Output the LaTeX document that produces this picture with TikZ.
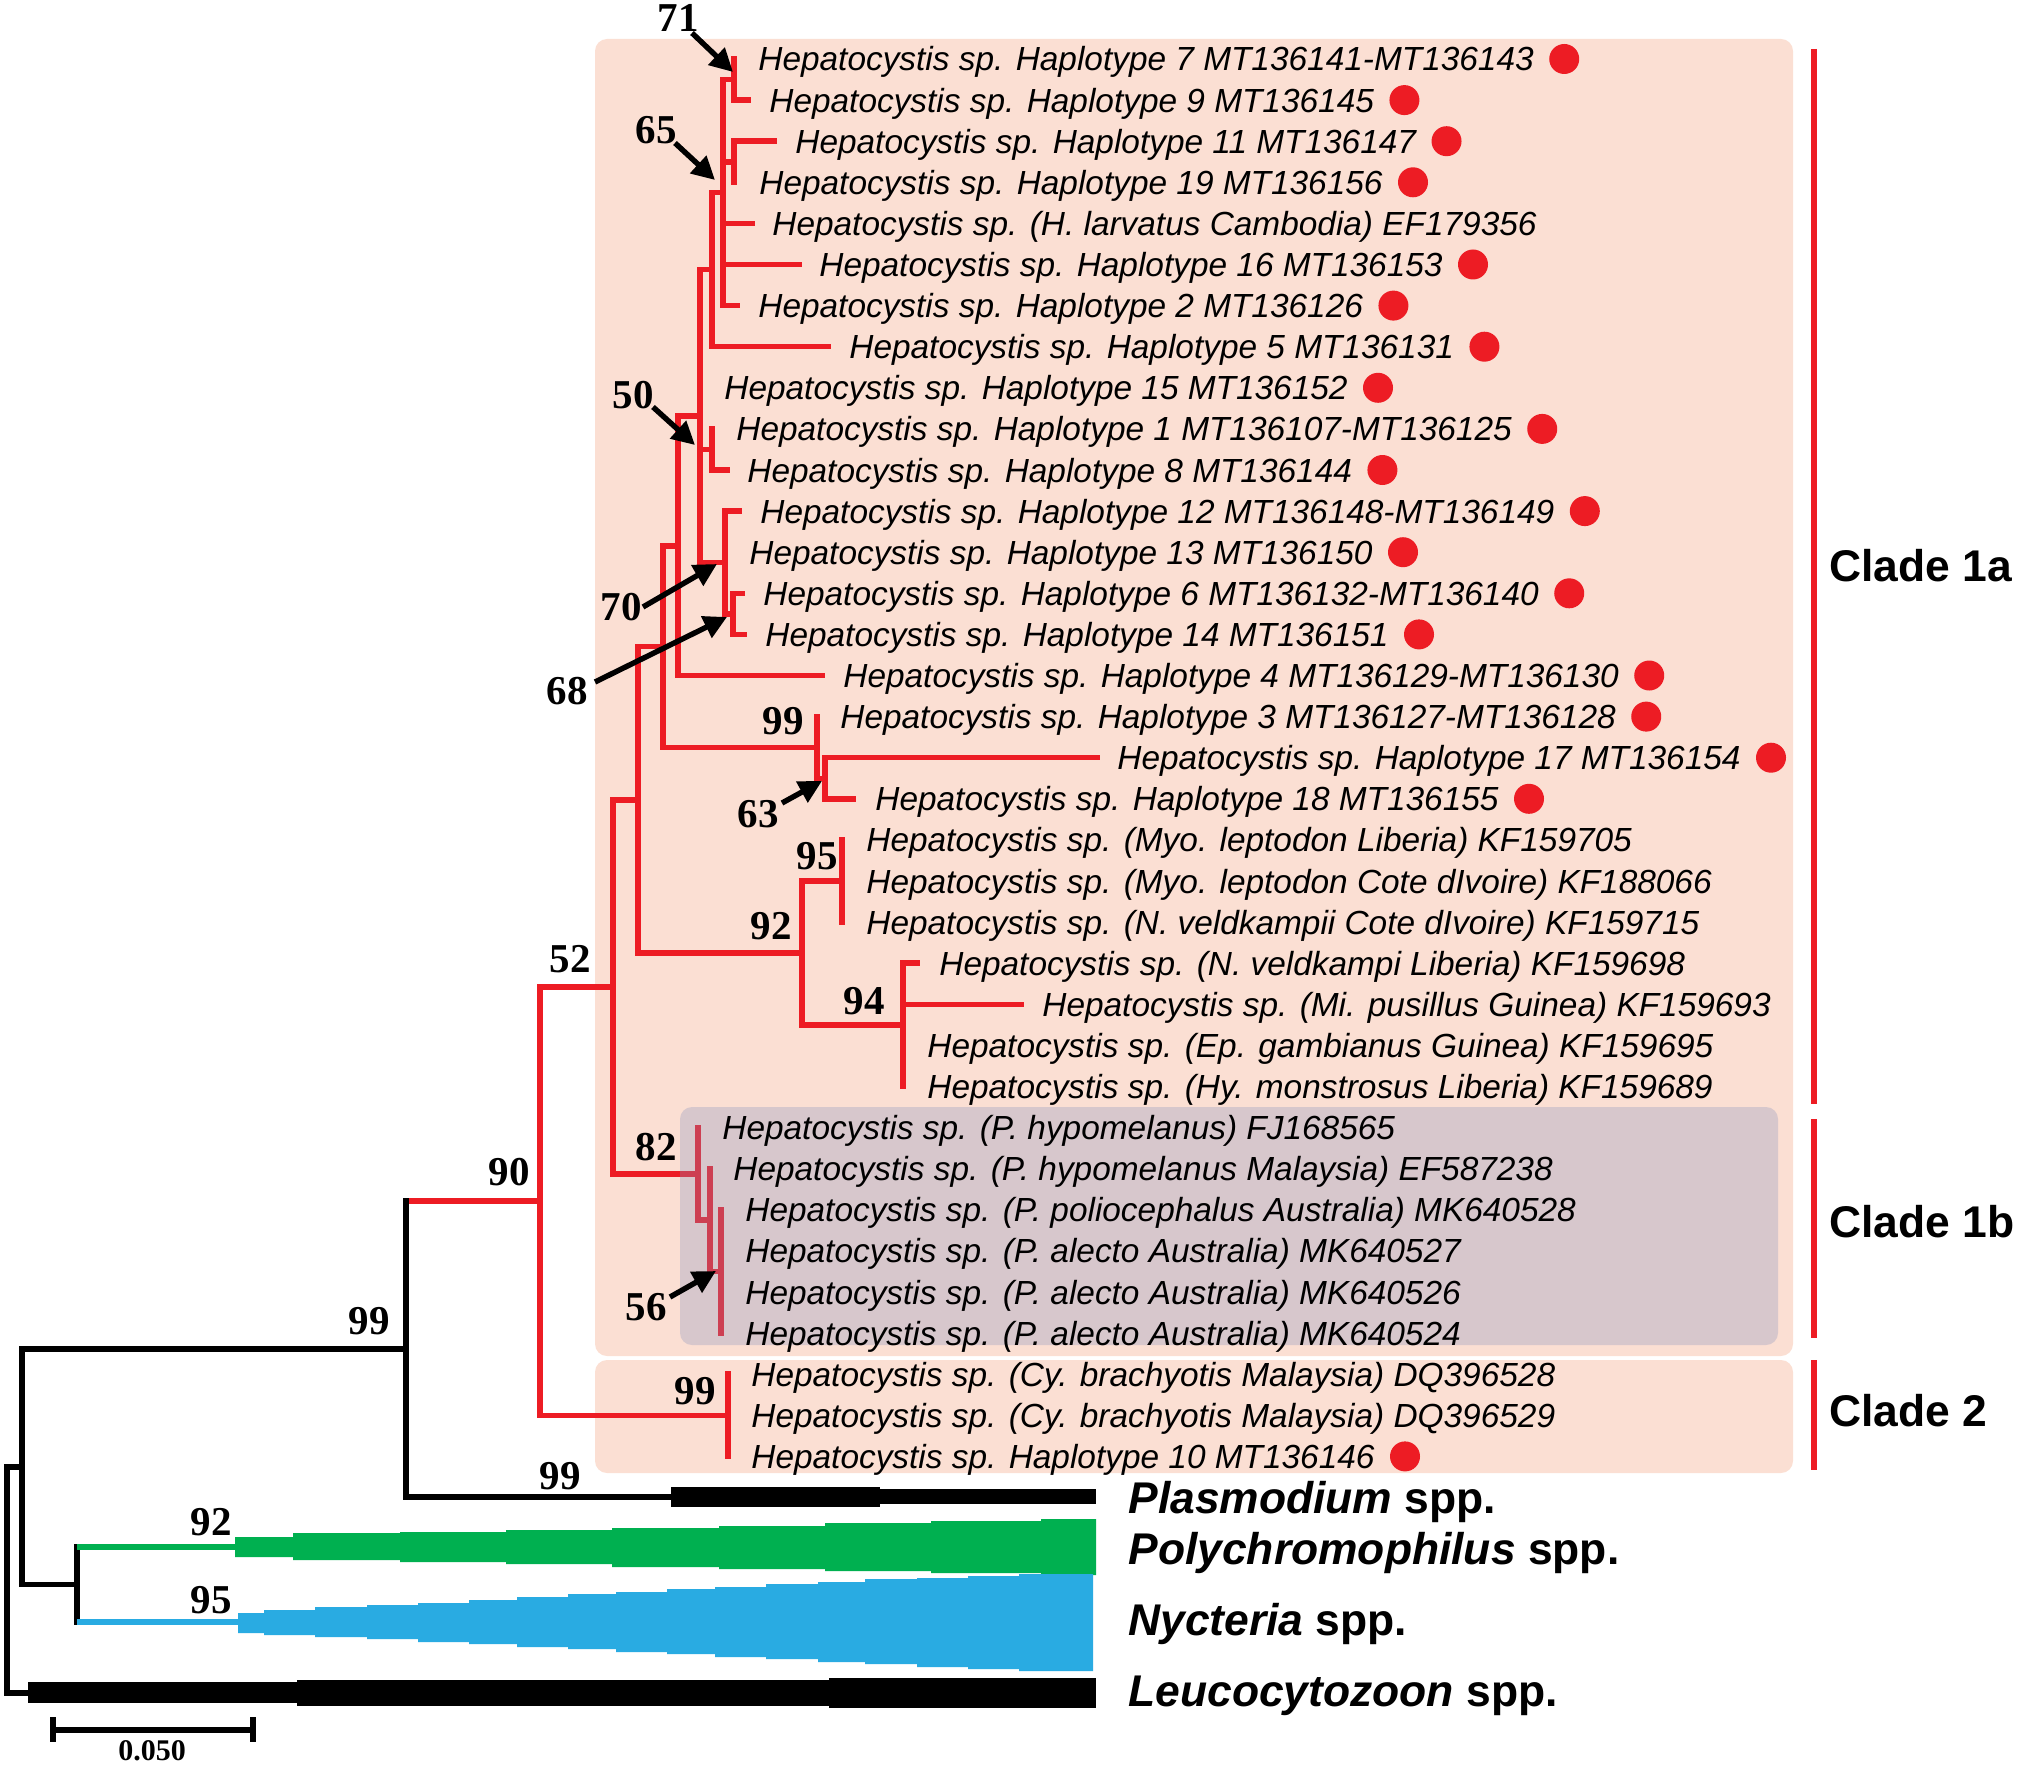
\documentclass[tikz,border=0pt]{standalone}
\usepackage{fontspec}
\setmainfont{Liberation Sans}
\newfontfamily\tnr{Liberation Serif}
\usetikzlibrary{arrows.meta}
\definecolor{hred}{RGB}{237,28,36}
\definecolor{peach}{RGB}{251,223,211}
\definecolor{grayov}{RGB}{134,146,190}
\definecolor{hgreen}{RGB}{0,176,80}
\definecolor{hblue}{RGB}{41,171,226}
\begin{document}
\begin{tikzpicture}[x=0.5pt,y=-0.5pt,
  br/.style={draw=hred,line width=2.75pt,line cap=rect},
  bk/.style={draw=black,line width=2.8pt,line cap=rect},
  gl/.style={draw=hgreen,line width=2.6pt},
  bl/.style={draw=hblue,line width=2.6pt},
  leaf/.style={font=\fontsize{16.7}{20}\selectfont\itshape,anchor=base west,inner sep=0pt,yshift=-6pt},
  bs/.style={font=\tnr\bfseries\fontsize{20.5}{22}\selectfont,inner sep=0pt},
  dot/.style={circle,fill=hred,minimum size=15pt,inner sep=0pt},
  clab/.style={font=\bfseries\fontsize{22.2}{26}\selectfont,anchor=base west,inner sep=0pt,yshift=-7.9pt},
  arr/.style={-{Triangle[length=11.5pt,width=11.5pt]},line width=2.7pt},
  cbar/.style={draw=hred,line width=3pt}]
\useasboundingbox (0,0) rectangle (2017,1765);
% boxes
\fill[peach,rounded corners=6pt] (595,39) rectangle (1793,1356);
\fill[peach,rounded corners=6pt] (595,1360) rectangle (1793,1473);
% tip coordinates
\coordinate (p1) at (734,59);
\coordinate (p2) at (748,100.1);
\coordinate (p3) at (774,141.2);
\coordinate (p4) at (734,182.3);
\coordinate (p5) at (752,223.4);
\coordinate (p6) at (799,264.5);
\coordinate (p7) at (737,305.6);
\coordinate (p8) at (828,346.7);
\coordinate (p9) at (700,387.8);
\coordinate (p10) at (712,428.9);
\coordinate (p11) at (727,470);
\coordinate (p12) at (739,511.1);
\coordinate (p13) at (725,552.2);
\coordinate (p14) at (742,593.3);
\coordinate (p15) at (744,634.4);
\coordinate (p16) at (822,675.5);
\coordinate (p17) at (817,716.6);
\coordinate (p18) at (1097,757.7);
\coordinate (p19) at (853,798.8);
\coordinate (p20) at (842,839.9);
\coordinate (p21) at (842,881);
\coordinate (p22) at (842,922.1);
\coordinate (p23) at (917,963.2);
\coordinate (p24) at (1021,1004.3);
\coordinate (p25) at (903,1045.4);
\coordinate (p26) at (903,1086.5);
\coordinate (p27) at (698,1127.6);
\coordinate (p28) at (710,1168.7);
\coordinate (p29) at (721,1209.8);
\coordinate (p30) at (721,1250.9);
\coordinate (p31) at (721,1292);
\coordinate (p32) at (721,1333.1);
\coordinate (p33) at (728,1374.2);
\coordinate (p34) at (728,1415.3);
\coordinate (p35) at (728,1456.4);
% internal nodes
\coordinate (nA) at (734,79.5);
\coordinate (nB) at (734,161.8);
\coordinate (nC) at (723,192.5);
\coordinate (nD) at (712,269.6);
\coordinate (nF) at (712,449.5);
\coordinate (nH) at (733,613.9);
\coordinate (nG) at (725,562.5);
\coordinate (nE) at (700,416);
\coordinate (nI) at (678,545.8);
\coordinate (nL) at (825,778.3);
\coordinate (nK) at (817,747.5);
\coordinate (nJ) at (663,646.6);
\coordinate (nO) at (842,881);
\coordinate (nP) at (903,1024.9);
\coordinate (nN) at (802,953);
\coordinate (nM) at (638,799.8);
\coordinate (nT) at (721,1271.5);
\coordinate (nS) at (710,1220.1);
\coordinate (nR) at (698,1173.9);
\coordinate (nQ) at (613,986.8);
\coordinate (nU) at (728,1415.3);
\coordinate (nV) at (540,1201);
\coordinate (nW) at (406,1349);
\coordinate (nX) at (22,1466.8);
\coordinate (nY) at (77,1584.5);
\coordinate (root) at (7,1466.8);
\coordinate (pl0) at (671,1497);
\coordinate (g0) at (235,1547);
\coordinate (b0) at (238,1622);
\coordinate (lc0) at (28,1693);
% red tree
\draw[br] (nA) |- (p1) (nA) |- (p2)
  (nB) |- (p3) (nB) |- (p4)
  (nC) |- (nA) (nC) |- (nB) (nC) |- (p5) (nC) |- (p6) (nC) |- (p7)
  (nD) |- (nC) (nD) |- (p8)
  (nF) |- (p10) (nF) |- (p11)
  (nH) |- (p14) (nH) |- (p15)
  (nG) |- (p12) (nG) |- (p13) (nG) |- (nH)
  (nE) |- (nD) (nE) |- (p9) (nE) |- (nF) (nE) |- (nG)
  (nI) |- (nE) (nI) |- (p16)
  (nL) |- (p18) (nL) |- (p19)
  (nK) |- (p17) (nK) |- (nL)
  (nJ) |- (nI) (nJ) |- (nK)
  (nO) |- (p20) (nO) |- (p21) (nO) |- (p22)
  (nP) |- (p23) (nP) |- (p24) (nP) |- (p25) (nP) |- (p26)
  (nN) |- (nO) (nN) |- (nP)
  (nM) |- (nJ) (nM) |- (nN)
  (nT) |- (p29) (nT) |- (p30) (nT) |- (p31) (nT) |- (p32)
  (nS) |- (p28) (nS) |- (nT)
  (nR) |- (p27) (nR) |- (nS)
  (nQ) |- (nM) (nQ) |- (nR)
  (nU) |- (p33) (nU) |- (p34) (nU) |- (p35)
  (nV) |- (nQ) (nV) |- (nU)
  (nW |- nV) -- (nV);
% black tree
\draw[bk] (nW) -- (nW |- nV) (nW) |- (pl0)
  (nX) |- (nW) (nX) |- (nY)
  (nY |- g0) -- (nY |- b0)
  (nX) -- (root) |- (lc0);
\draw[gl] (nY |- g0) -- (g0);
\draw[bl] (nY |- b0) -- (b0);
% collapsed clades
\fill (671,1487) rectangle (880,1507);
\fill (880,1489) rectangle (1096,1504);
\fill[hgreen] (235,1557) -- (235,1537) -- (293,1537) -- (293,1533) -- (400,1533) -- (400,1532) -- (506,1532) -- (506,1530) -- (612,1530) -- (612,1528) -- (719,1528) -- (719,1526) -- (825,1526) -- (825,1523) -- (931,1523) -- (931,1521) -- (1041,1521) -- (1041,1519) -- (1096,1519) -- (1096,1575) -- (1041,1575) -- (1041,1573) -- (931,1573) -- (931,1571) -- (825,1571) -- (825,1569) -- (719,1569) -- (719,1567) -- (612,1567) -- (612,1564) -- (506,1564) -- (506,1562) -- (400,1562) -- (400,1560) -- (293,1560) -- (293,1557) -- cycle;
\fill[hblue] (238,1633) -- (238,1613) -- (264,1613) -- (264,1610) -- (315,1610) -- (315,1607) -- (367,1607) -- (367,1605) -- (418,1605) -- (418,1603) -- (469,1603) -- (469,1600) -- (517,1600) -- (517,1597) -- (568,1597) -- (568,1594) -- (616,1594) -- (616,1592) -- (667,1592) -- (667,1589) -- (715,1589) -- (715,1587) -- (766,1587) -- (766,1584) -- (818,1584) -- (818,1582) -- (865,1582) -- (865,1579) -- (917,1579) -- (917,1578) -- (968,1578) -- (968,1576) -- (1019,1576) -- (1019,1574) -- (1093,1574) -- (1093,1671) -- (1019,1671) -- (1019,1669) -- (968,1669) -- (968,1667) -- (917,1667) -- (917,1664) -- (865,1664) -- (865,1662) -- (818,1662) -- (818,1659) -- (766,1659) -- (766,1657) -- (715,1657) -- (715,1654) -- (667,1654) -- (667,1652) -- (616,1652) -- (616,1649) -- (568,1649) -- (568,1647) -- (517,1647) -- (517,1644) -- (469,1644) -- (469,1642) -- (418,1642) -- (418,1639) -- (367,1639) -- (367,1637) -- (315,1637) -- (315,1635) -- (264,1635) -- (264,1633) -- cycle;
\fill (28,1682) rectangle (297,1703);
\fill (297,1680) rectangle (829,1706);
\fill (829,1678) rectangle (1096,1708);
% clade 1b overlay
\fill[grayov,fill opacity=0.3,rounded corners=6pt] (680,1107) rectangle (1778,1345);
% leaf labels
\node[leaf] (t1) at (758,59) {Hepatocystis sp. Haplotype 7 MT136141-MT136143};
\node[leaf] (t2) at (769,100.1) {Hepatocystis sp. Haplotype 9 MT136145};
\node[leaf] (t3) at (795,141.2) {Hepatocystis sp. Haplotype 11 MT136147};
\node[leaf] (t4) at (759,182.3) {Hepatocystis sp. Haplotype 19 MT136156};
\node[leaf] (t5) at (772,223.4) {Hepatocystis sp. (H. larvatus Cambodia) EF179356};
\node[leaf] (t6) at (819,264.5) {Hepatocystis sp. Haplotype 16 MT136153};
\node[leaf] (t7) at (758,305.6) {Hepatocystis sp. Haplotype 2 MT136126};
\node[leaf] (t8) at (849,346.7) {Hepatocystis sp. Haplotype 5 MT136131};
\node[leaf] (t9) at (724,387.8) {Hepatocystis sp. Haplotype 15 MT136152};
\node[leaf] (t10) at (736,428.9) {Hepatocystis sp. Haplotype 1 MT136107-MT136125};
\node[leaf] (t11) at (747,470) {Hepatocystis sp. Haplotype 8 MT136144};
\node[leaf] (t12) at (760,511.1) {Hepatocystis sp. Haplotype 12 MT136148-MT136149};
\node[leaf] (t13) at (749,552.2) {Hepatocystis sp. Haplotype 13 MT136150};
\node[leaf] (t14) at (763,593.3) {Hepatocystis sp. Haplotype 6 MT136132-MT136140};
\node[leaf] (t15) at (765,634.4) {Hepatocystis sp. Haplotype 14 MT136151};
\node[leaf] (t16) at (843,675.5) {Hepatocystis sp. Haplotype 4 MT136129-MT136130};
\node[leaf] (t17) at (840,716.6) {Hepatocystis sp. Haplotype 3 MT136127-MT136128};
\node[leaf] (t18) at (1117,757.7) {Hepatocystis sp. Haplotype 17 MT136154};
\node[leaf] (t19) at (875,798.8) {Hepatocystis sp. Haplotype 18 MT136155};
\node[leaf] (t20) at (866,839.9) {Hepatocystis sp. (Myo. leptodon Liberia) KF159705};
\node[leaf] (t21) at (866,881) {Hepatocystis sp. (Myo. leptodon Cote dIvoire) KF188066};
\node[leaf] (t22) at (866,922.1) {Hepatocystis sp. (N. veldkampii Cote dIvoire) KF159715};
\node[leaf] (t23) at (939,963.2) {Hepatocystis sp. (N. veldkampi Liberia) KF159698};
\node[leaf] (t24) at (1042,1004.3) {Hepatocystis sp. (Mi. pusillus Guinea) KF159693};
\node[leaf] (t25) at (927,1045.4) {Hepatocystis sp. (Ep. gambianus Guinea) KF159695};
\node[leaf] (t26) at (927,1086.5) {Hepatocystis sp. (Hy. monstrosus Liberia) KF159689};
\node[leaf] (t27) at (722,1127.6) {Hepatocystis sp. (P. hypomelanus) FJ168565};
\node[leaf] (t28) at (733,1168.7) {Hepatocystis sp. (P. hypomelanus Malaysia) EF587238};
\node[leaf] (t29) at (745,1209.8) {Hepatocystis sp. (P. poliocephalus Australia) MK640528};
\node[leaf] (t30) at (745,1250.9) {Hepatocystis sp. (P. alecto Australia) MK640527};
\node[leaf] (t31) at (745,1292) {Hepatocystis sp. (P. alecto Australia) MK640526};
\node[leaf] (t32) at (745,1333.1) {Hepatocystis sp. (P. alecto Australia) MK640524};
\node[leaf] (t33) at (751,1374.2) {Hepatocystis sp. (Cy. brachyotis Malaysia) DQ396528};
\node[leaf] (t34) at (751,1415.3) {Hepatocystis sp. (Cy. brachyotis Malaysia) DQ396529};
\node[leaf] (t35) at (751,1456.4) {Hepatocystis sp. Haplotype 10 MT136146};
% red dots
\foreach \i in {1,2,3,4,6,7,8,9,10,11,12,13,14,15,16,17,18,19,35}
  \node[dot] (d\i) at ([xshift=15pt,yshift=6pt]t\i.base east) {};
% bootstrap values
\node[bs] (b71) at (678,18) {71};
\node[bs] (b65) at (656,130) {65};
\node[bs] (b50) at (633,395) {50};
\node[bs] (b70) at (621,607) {70};
\node[bs] (b68) at (567,691) {68};
\node[bs] (b99a) at (783,721) {99};
\node[bs] (b63) at (758,814) {63};
\node[bs] (b95a) at (817,856) {95};
\node[bs] (b92a) at (771,926) {92};
\node[bs] (b94) at (864,1001) {94};
\node[bs] (b52) at (570,959) {52};
\node[bs] (b82) at (656,1147) {82};
\node[bs] (b56) at (646,1307) {56};
\node[bs] (b99b) at (695,1391) {99};
\node[bs] (b90) at (509,1172) {90};
\node[bs] (b99c) at (369,1321) {99};
\node[bs] (b99d) at (560,1476) {99};
\node[bs] (b92b) at (211,1522) {92};
\node[bs] (b95b) at (211,1600) {95};
% pointer arrows
\coordinate (a71s) at (692,33);   \coordinate (a71e) at (733,72);
\coordinate (a65s) at (675,143);  \coordinate (a65e) at (715,180);
\coordinate (a50s) at (653,407);  \coordinate (a50e) at (695,445);
\coordinate (a70s) at (643,607);  \coordinate (a70e) at (717,564);
\coordinate (a68s) at (595,682);  \coordinate (a68e) at (727,617);
\coordinate (a63s) at (782,803);  \coordinate (a63e) at (822,781);
\coordinate (a56s) at (670,1297); \coordinate (a56e) at (716,1271);
\draw[arr] (a71s) -- (a71e);
\draw[arr] (a65s) -- (a65e);
\draw[arr] (a50s) -- (a50e);
\draw[arr] (a70s) -- (a70e);
\draw[arr] (a68s) -- (a68e);
\draw[arr] (a63s) -- (a63e);
\draw[arr] (a56s) -- (a56e);
% clade bars and labels
\draw[cbar] (1814,49) -- (1814,1104);
\draw[cbar] (1814,1119) -- (1814,1338);
\draw[cbar] (1814,1360) -- (1814,1470);
\node[clab] (c1a) at (1829,566) {Clade 1a};
\node[clab] (c1b) at (1829,1222) {Clade 1b};
\node[clab] (c2) at (1829,1411) {Clade 2};
% outgroup labels
\node[clab] (oPl) at (1128,1498) {\textit{Plasmodium} spp.};
\node[clab] (oPo) at (1128,1549) {\textit{Polychromophilus} spp.};
\node[clab] (oNy) at (1128,1620) {\textit{Nycteria} spp.};
\node[clab] (oLe) at (1128,1691) {\textit{Leucocytozoon} spp.};
% scale bar
\coordinate (sb1) at (53,1730); \coordinate (sb2) at (253,1730);
\draw[bk,line cap=butt] (sb1) -- (sb2) (53,1717) -- (53,1742) (253,1717) -- (253,1742);
\node[font=\tnr\bfseries\fontsize{15}{17}\selectfont,inner sep=0pt] (sbl) at (152,1751) {0.050};
\end{tikzpicture}
\end{document}
